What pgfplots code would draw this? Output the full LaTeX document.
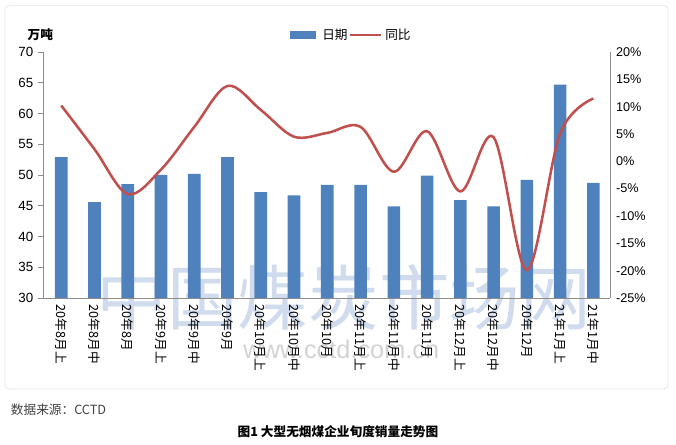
\documentclass[border=0pt]{standalone}
\usepackage{pgfplots}
\pgfplotsset{compat=1.18}
\usepackage{fontspec}
\setmainfont{Liberation Sans}
\newfontfamily\cjk{Noto Sans CJK SC}
\definecolor{barblue}{HTML}{4F81BD}
\definecolor{linered}{HTML}{C0504D}
\definecolor{axgray}{HTML}{8C8C8C}
\definecolor{wmblue}{RGB}{208,220,238}
\definecolor{wmgray}{RGB}{210,210,210}
\begin{document}
\begin{tikzpicture}
\path (0,0) rectangle (507pt,333.75pt);
\draw[draw=black!10, line width=0.6pt, rounded corners=3pt] (3.75pt,42pt) rectangle (501pt,329.5pt);
% watermark
\node[wmblue, font=\cjk\fontsize{53}{53}\selectfont, inner sep=0pt] at (258pt,111pt) {中国煤炭市场网};
\node[wmgray, font=\fontsize{19}{19}\selectfont, inner sep=0pt] at (256pt,72pt) {www.cctd.com.cn};
\begin{axis}[
  at={(32.25pt,110.25pt)}, anchor=south west,
  scale only axis, width=425.25pt, height=184.5pt,
  xmin=-0.55, xmax=16.5, ymin=30, ymax=70,
  ytick={30,35,...,70},
  axis y line*=left, axis x line*=bottom,
  axis line style={axgray, line width=0.6pt},
  tick align=outside, major tick length=3.75pt,
  ytick style={axgray, line width=0.6pt},
  xtick style={draw=none},
  xtick={0,...,16},
  xticklabels={20年8月上,20年8月中,20年8月,20年9月上,20年9月中,20年9月,20年10月上,20年10月中,20年10月,20年11月上,20年11月中,20年11月,20年12月上,20年12月中,20年12月,21年1月上,21年1月中},
  xticklabel style={rotate=-90, anchor=west, font=\cjk\fontsize{9.5}{10}\selectfont, inner sep=1pt, xshift=0pt},
  yticklabel style={font=\fontsize{10}{12}\selectfont},
  /pgf/number format/assume math mode=true,
]
\addplot[ybar, bar width=9.5pt, fill=barblue, draw=none] coordinates {
(0,52.9) (1,45.6) (2,48.5) (3,50.0) (4,50.2) (5,52.9) (6,47.2) (7,46.7) (8,48.4)
(9,48.4) (10,44.9) (11,49.9) (12,45.9) (13,44.9) (14,49.2) (15,64.7) (16,48.7)};
\end{axis}
\begin{axis}[
  at={(32.25pt,110.25pt)}, anchor=south west,
  scale only axis, width=425.25pt, height=184.5pt,
  xmin=-0.55, xmax=16.5, ymin=-25, ymax=20,
  ytick={-25,-20,...,20},
  axis y line*=right, axis x line=none,
  axis line style={axgray, line width=0.6pt},
  ytick style={draw=none},
  yticklabel={\pgfmathprintnumber{\tick}\%},
  yticklabel style={font=\fontsize{9.5}{12}\selectfont, anchor=west, xshift=1pt},
  /pgf/number format/assume math mode=true,
]
\addplot[linered, line width=1.9pt, smooth, tension=0.55] coordinates {
(0,10.2) (1,2.2) (2,-6.0) (3,-1.5) (4,6.3) (5,13.8) (6,9.4) (7,4.5) (8,5.2)
(9,6.3) (10,-1.9) (11,5.5) (12,-5.5) (13,4.4) (14,-19.9) (15,5.1) (16,11.5)};
\end{axis}
% legend
\fill[barblue] (217.5pt,304.25pt) rectangle (237pt,310.75pt);
\node[anchor=west, inner sep=0pt, font=\cjk\fontsize{9.5}{10}\selectfont] at (241.5pt,307.5pt) {日期};
\draw[linered, line width=1.9pt] (262.5pt,307.5pt) -- (285.75pt,307.5pt);
\node[anchor=west, inner sep=0pt, font=\cjk\fontsize{9.5}{10}\selectfont] at (288.75pt,307.5pt) {同比};
\node[anchor=west, inner sep=0pt, font=\cjk\bfseries\fontsize{9.5}{10}\selectfont] at (20.5pt,307.5pt) {万吨};
% source and title
\node[anchor=west, inner sep=0pt, font=\cjk\fontsize{9.5}{10}\selectfont, black!75] at (8pt,26.25pt) {数据来源：CCTD};
\node[inner sep=0pt, font=\cjk\bfseries\fontsize{9.5}{10}\selectfont] at (253.5pt,9.75pt) {图1 大型无烟煤企业旬度销量走势图};
\end{tikzpicture}
\end{document}
